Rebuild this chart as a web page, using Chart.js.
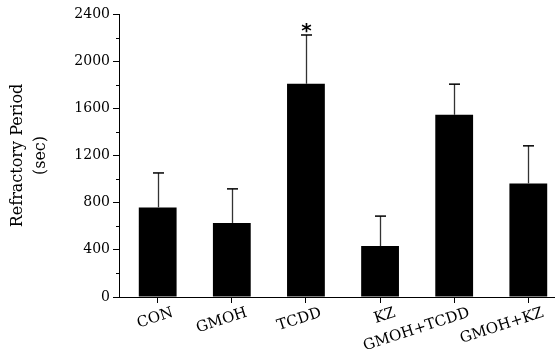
<!DOCTYPE html>
<html>
<head>
<meta charset="utf-8">
<script src="https://cdn.jsdelivr.net/npm/chart.js@4.4.1/dist/chart.umd.min.js"></script>
<style>
  html, body { margin: 0; padding: 0; background: #fff; }
  #wrap { width: 555px; height: 351px; }
</style>
</head>
<body>
<div id="wrap"><canvas id="refChart" width="555" height="351"></canvas></div>
<script>
// --- DATA ---
const groups = ['CON', 'GMOH', 'TCDD', 'KZ', 'GMOH+TCDD', 'GMOH+KZ'];
const refractoryMean = [760, 628, 1808, 432, 1545, 963];   // sec
const refractorySem = [292, 289, 414, 254, 260, 319];      // upper error
const significant = [false, false, true, false, false, false];
const yMajorStep = 400;
const yMinorTicks = [200, 600, 1000, 1400, 1800, 2200];

const serif = "'DejaVu Serif', 'Liberation Serif', serif";

// error bars, asterisk and minor y ticks drawn on top of the bars
const errorBarPlugin = {
    id: 'errorBars',
    afterDatasetsDraw(chart) {
        const { ctx, scales: { x, y } } = chart;
        ctx.save();
        refractoryMean.forEach((m, i) => {
            const px = Math.round(x.getPixelForValue(i)) + 0.5;
            const yBar = y.getPixelForValue(m);
            const yTop = y.getPixelForValue(m + refractorySem[i]);
            ctx.strokeStyle = '#333';
            ctx.lineWidth = 1.3;
            ctx.beginPath();
            ctx.moveTo(px, yBar);
            ctx.lineTo(px, yTop);
            ctx.stroke();
            ctx.strokeStyle = '#000';
            ctx.lineWidth = 1.5;
            ctx.beginPath();
            ctx.moveTo(px - 5.5, yTop);
            ctx.lineTo(px + 5.5, yTop);
            ctx.stroke();
            if (significant[i]) {
                ctx.fillStyle = '#000';
                ctx.font = "bold 20px 'DejaVu Sans', sans-serif";
                ctx.textAlign = 'center';
                ctx.textBaseline = 'alphabetic';
                ctx.fillText('*', px, yTop + 2);
            }
        });
        // minor ticks on the y axis
        ctx.strokeStyle = '#000';
        ctx.lineWidth = 1;
        yMinorTicks.forEach(v => {
            const py = Math.round(y.getPixelForValue(v)) + 0.5;
            ctx.beginPath();
            ctx.moveTo(y.right - 3, py);
            ctx.lineTo(y.right, py);
            ctx.stroke();
        });
        ctx.restore();
    }
};

const ctx = document.getElementById('refChart').getContext('2d');
new Chart(ctx, {
    type: 'bar',
    data: {
        datasets: [{
            label: 'Refractory Period',
            data: refractoryMean.map((v, i) => ({ x: i, y: v })),
            backgroundColor: '#000',
            borderWidth: 0,
            barPercentage: 0.51,
            categoryPercentage: 1
        }]
    },
    options: {
        responsive: false,
        animation: false,
        events: [],
        layout: { padding: { top: 14, right: 0, bottom: 0, left: 0 } },
        plugins: {
            legend: { display: false },
            tooltip: { enabled: false }
        },
        scales: {
            x: {
                type: 'linear',
                min: -0.522,
                max: 5.36,
                offset: false,
                afterFit: s => { s.height = 54; },
                border: { color: '#000', width: 1 },
                grid: { offset: false, drawOnChartArea: false, tickLength: 6, tickColor: '#000' },
                ticks: {
                    stepSize: 1,
                    includeBounds: false,
                    autoSkip: false,
                    minRotation: 18,
                    maxRotation: 18,
                    labelOffset: 15,
                    padding: 1,
                    color: '#000',
                    font: { family: serif, size: 15 },
                    callback: v => groups[v] ?? ''
                }
            },
            y: {
                min: 0,
                max: 2400,
                afterFit: s => { s.width = 119; },
                border: { color: '#000', width: 1 },
                grid: { drawOnChartArea: false, tickLength: 6, tickColor: '#000' },
                ticks: {
                    stepSize: yMajorStep,
                    padding: 3,
                    color: '#000',
                    font: { family: serif, size: 14 },
                    callback: v => String(v)
                },
                title: {
                    display: true,
                    text: ['Refractory Period', '(sec)'],
                    color: '#000',
                    font: { family: serif, size: 16, lineHeight: 1.4 },
                    padding: { top: 7, bottom: 0 }
                }
            }
        }
    },
    plugins: [errorBarPlugin]
});
</script>
</body>
</html>
